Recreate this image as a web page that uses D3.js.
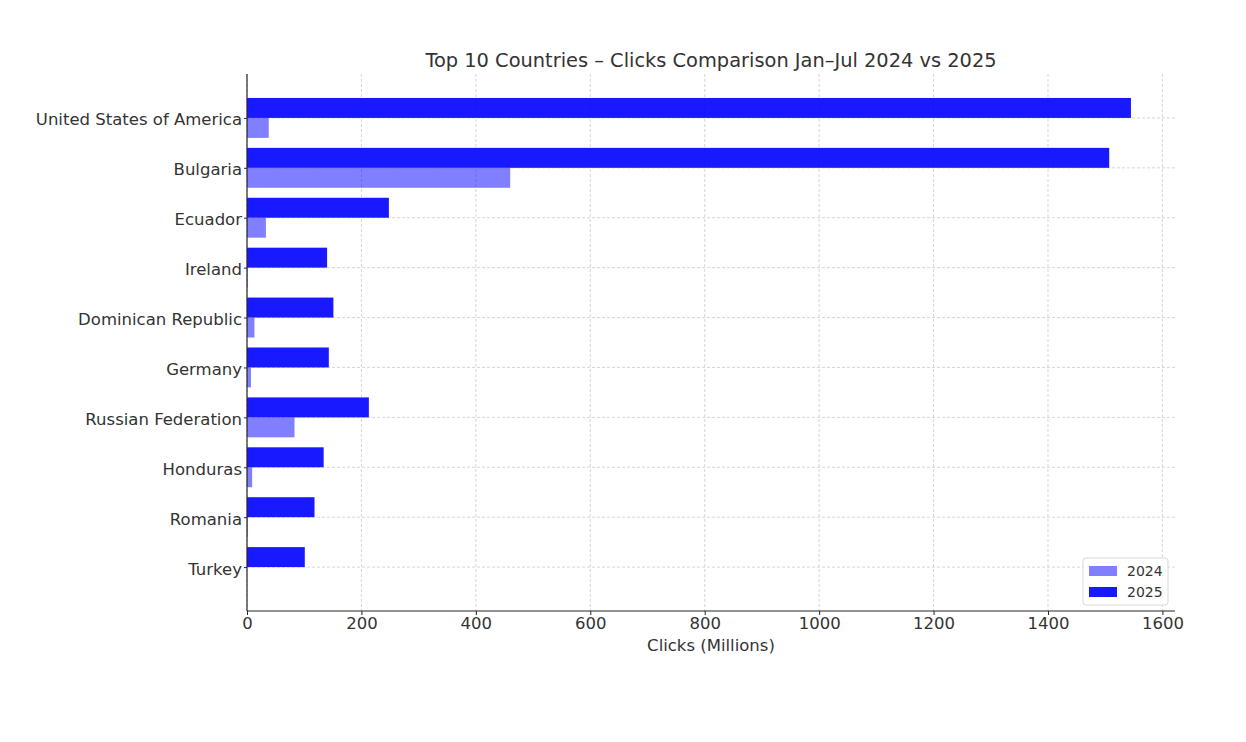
<!DOCTYPE html>
<html>
<head>
<meta charset="utf-8">
<script src="https://cdn.jsdelivr.net/npm/d3@7"></script>
<style>
  body { margin: 0; background: #fff; }
  text { font-family: "DejaVu Sans", sans-serif; fill: #333333; }
</style>
</head>
<body>
<div id="chart"></div>
<script>
// data
var countries = ["United States of America", "Bulgaria", "Ecuador", "Ireland",
    "Dominican Republic", "Germany", "Russian Federation", "Honduras", "Romania", "Turkey"];
var clicks2024 = [38, 460, 33, 1, 13, 7, 83, 9, 1, 0];
var clicks2025 = [1545, 1507, 248, 140, 151, 143, 213, 134, 118, 101];
var xTicks = [0, 200, 400, 600, 800, 1000, 1200, 1400, 1600];
var seriesNames = ["2024", "2025"];

var width = 1246, height = 742;
var plotLeft = 247, plotRight = 1175, plotTop = 74, plotBottom = 611;
var barH = 0.4;
var textColor = "#333333";

var svg = d3.select("#chart").append("svg")
    .attr("width", width)
    .attr("height", height);

var x = d3.scaleLinear().domain([0, 1622]).range([plotLeft, plotRight]);
// category index -> vertical position (index 0 at top)
var y = d3.scaleLinear().domain([-0.88, countries.length - 1 + 0.88]).range([plotTop, plotBottom]);

//grid
var grid = svg.append("g").attr("class", "grid");
grid.selectAll(".vgrid").data(xTicks).enter().append("line")
    .attr("x1", function(d){ return x(d); })
    .attr("x2", function(d){ return x(d); })
    .attr("y1", plotTop).attr("y2", plotBottom)
    .style("stroke", "#cccccc").style("stroke-width", 0.8)
    .style("stroke-dasharray", "3,2");
grid.selectAll(".hgrid").data(countries).enter().append("line")
    .attr("x1", plotLeft).attr("x2", plotRight)
    .attr("y1", function(d, i){ return y(i); })
    .attr("y2", function(d, i){ return y(i); })
    .style("stroke", "#cccccc").style("stroke-width", 0.8)
    .style("stroke-dasharray", "3,2");

// bars: 2025 above centre, 2024 below
svg.append("g").selectAll("rect").data(clicks2025).enter().append("rect")
    .attr("x", x(0))
    .attr("y", function(d, i){ return y(i - barH); })
    .attr("width", function(d){ return x(d) - x(0); })
    .attr("height", function(d, i){ return y(i) - y(i - barH); })
    .style("fill", "blue").style("fill-opacity", 0.9);

svg.append("g").selectAll("rect").data(clicks2024).enter().append("rect")
    .attr("x", x(0))
    .attr("y", function(d, i){ return y(i); })
    .attr("width", function(d){ return x(d) - x(0); })
    .attr("height", function(d, i){ return y(i + barH) - y(i); })
    .style("fill", "blue").style("fill-opacity", 0.5);

// axes
var xAxis = d3.axisBottom(x).tickValues(xTicks).tickFormat(d3.format("d")).tickSize(4).tickPadding(2);
var gx = svg.append("g")
    .attr("transform", "translate(0," + plotBottom + ")")
    .call(xAxis);
gx.select(".domain").attr("d", "M" + plotLeft + ",0H" + plotRight).style("stroke", "#262626").style("stroke-width", 1.2);
gx.selectAll(".tick line").style("stroke", "#262626");
gx.selectAll(".tick text").style("font-size", "16.5px").style("fill", textColor);

var yAxis = d3.axisLeft(y)
    .tickValues(d3.range(countries.length))
    .tickFormat(function(i){ return countries[i]; })
    .tickSize(3).tickPadding(2);
var gy = svg.append("g")
    .attr("transform", "translate(" + plotLeft + ",0)")
    .call(yAxis);
gy.select(".domain").attr("d", "M0," + plotTop + "V" + plotBottom).style("stroke", "#262626").style("stroke-width", 1.2);
gy.selectAll(".tick line").style("stroke", "#262626");
gy.selectAll(".tick text").style("font-size", "16.5px").style("fill", textColor).attr("dy", "0.42em");
svg.selectAll(".tick text").style("font-family", "DejaVu Sans");

// title and label
svg.append("text")
    .attr("x", (plotLeft + plotRight) / 2).attr("y", 67)
    .attr("text-anchor", "middle")
    .style("font-size", "19.4px")
    .text("Top 10 Countries \u2013 Clicks Comparison Jan\u2013Jul 2024 vs 2025");

svg.append("text")
    .attr("x", (plotLeft + plotRight) / 2).attr("y", 651)
    .attr("text-anchor", "middle")
    .style("font-size", "16.5px")
    .text("Clicks (Millions)");

// legend
var legend = svg.append("g").attr("transform", "translate(1083,558)");
legend.append("rect")
    .attr("width", 85).attr("height", 47).attr("rx", 3)
    .style("fill", "#fff").style("fill-opacity", 0.8)
    .style("stroke", "#d9d9d9");
var opac = [0.5, 0.9];
seriesNames.forEach(function(s, i){
    legend.append("rect")
        .attr("x", 6).attr("y", 8 + i * 21)
        .attr("width", 28).attr("height", 10)
        .style("fill", "blue").style("fill-opacity", opac[i]);
    legend.append("text")
        .attr("x", 44).attr("y", 18 + i * 21)
        .style("font-size", "14px")
        .text(s);
});
</script>
</body>
</html>
